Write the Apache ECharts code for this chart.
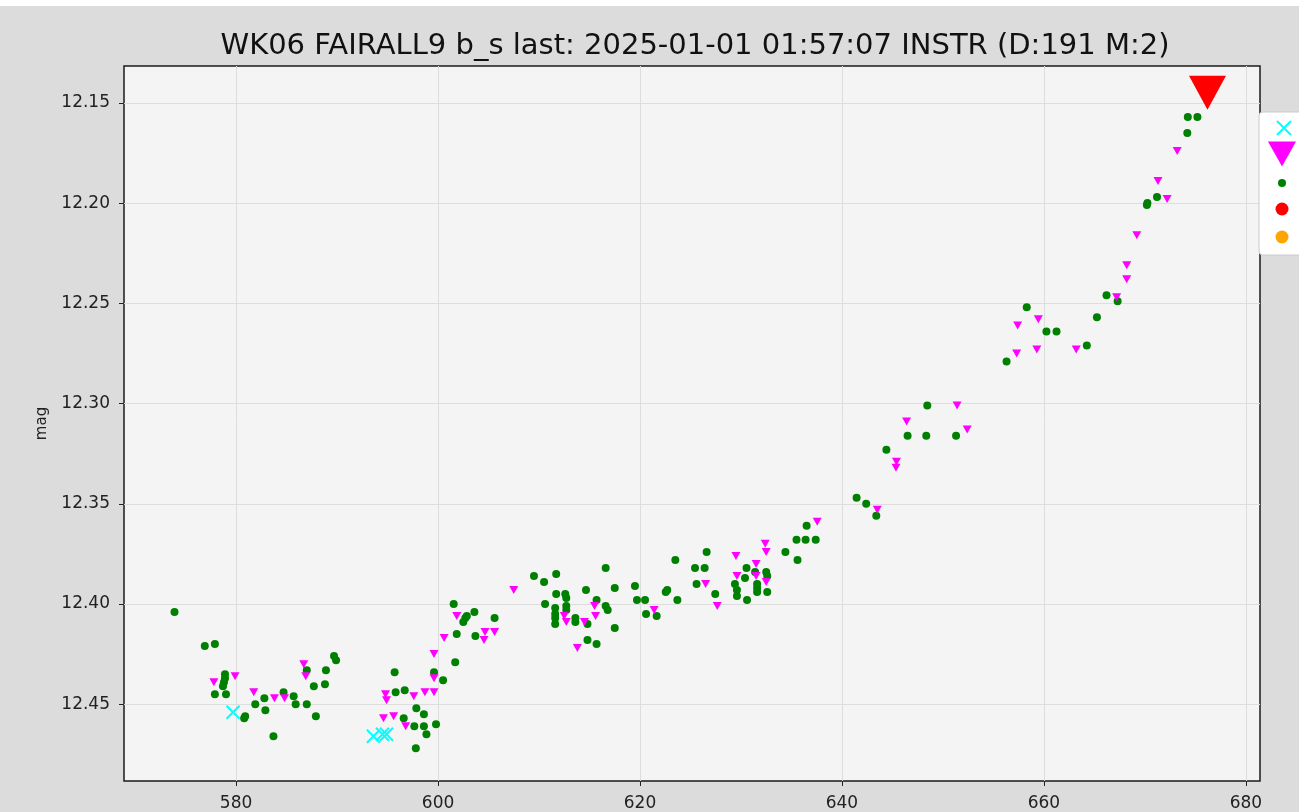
<!DOCTYPE html>
<html>
<head>
<meta charset="utf-8">
<script src="https://cdn.jsdelivr.net/npm/echarts@6/dist/echarts.min.js"></script>
<style>
  html, body { margin: 0; padding: 0; background: #dcdcdc; }
  #chart { width: 1299px; height: 812px; }
</style>
</head>
<body>
<div id="chart"></div>
<script>
const TITLE = "WK06 FAIRALL9 b_s last: 2025-01-01 01:57:07 INSTR (D:191 M:2)";
const X_TICKS = [580, 600, 620, 640, 660, 680];
const Y_TICKS = [12.15, 12.20, 12.25, 12.30, 12.35, 12.40, 12.45];

// [day, mag]
const greenPoints = [
  [573.9, 12.404], [576.9, 12.421], [577.9, 12.420], [578.9, 12.435], [578.9, 12.437],
  [578.8, 12.439], [578.7, 12.441], [577.9, 12.445], [579.0, 12.445], [580.8, 12.457],
  [580.9, 12.456], [581.9, 12.450], [582.8, 12.447], [582.9, 12.453], [583.7, 12.466],
  [584.7, 12.444], [585.7, 12.446], [585.9, 12.450], [587.0, 12.450], [587.0, 12.433],
  [587.9, 12.456], [587.7, 12.441], [588.8, 12.440], [588.9, 12.433], [589.7, 12.426],
  [589.9, 12.428], [595.7, 12.434], [595.8, 12.444], [596.7, 12.443], [596.6, 12.457],
  [597.85, 12.452], [597.65, 12.461], [597.8, 12.472], [598.6, 12.455], [598.6, 12.461],
  [598.85, 12.465], [599.6, 12.434], [599.8, 12.460], [600.5, 12.438], [601.7, 12.429],
  [601.85, 12.415], [601.55, 12.400], [602.5, 12.409], [602.7, 12.407], [602.85, 12.406],
  [603.6, 12.404], [603.7, 12.416], [605.6, 12.407], [609.5, 12.386], [610.5, 12.389],
  [611.7, 12.385], [610.6, 12.400], [611.7, 12.395], [612.6, 12.395], [612.7, 12.397],
  [611.6, 12.402], [611.6, 12.405], [611.6, 12.407], [611.6, 12.410], [612.7, 12.401],
  [612.7, 12.403], [613.6, 12.407], [613.6, 12.409], [614.65, 12.393], [614.8, 12.410],
  [614.8, 12.418], [615.7, 12.398], [615.7, 12.420], [616.6, 12.382], [616.6, 12.401],
  [616.8, 12.403], [617.5, 12.392], [617.5, 12.412], [619.5, 12.391], [619.7, 12.398],
  [620.5, 12.398], [620.6, 12.405], [621.65, 12.406], [622.55, 12.394], [622.7, 12.393],
  [623.5, 12.378], [623.7, 12.398], [625.45, 12.382], [626.4, 12.382], [626.6, 12.374],
  [625.6, 12.390], [627.45, 12.395], [629.4, 12.390], [629.6, 12.393], [629.6, 12.396],
  [630.4, 12.387], [630.55, 12.382], [630.6, 12.398], [631.4, 12.384], [631.6, 12.390],
  [631.6, 12.392], [631.6, 12.394], [632.5, 12.384], [632.6, 12.386], [632.6, 12.394],
  [634.4, 12.374], [635.6, 12.378], [635.5, 12.368], [636.4, 12.368], [636.5, 12.361],
  [637.4, 12.368], [641.45, 12.347], [642.4, 12.350], [643.4, 12.356], [644.4, 12.323],
  [646.5, 12.316], [648.35, 12.316], [648.45, 12.301], [651.3, 12.316], [656.3, 12.279],
  [658.3, 12.252], [660.25, 12.264], [661.25, 12.264], [664.25, 12.271], [665.25, 12.257],
  [666.2, 12.246], [667.3, 12.249], [670.2, 12.201], [670.25, 12.200], [671.2, 12.197],
  [674.2, 12.165], [674.25, 12.157], [675.2, 12.157]
];

const magentaPoints = [
  [577.8, 12.439], [579.9, 12.436], [581.75, 12.444], [583.8, 12.447], [584.8, 12.447],
  [586.7, 12.430], [586.9, 12.436], [594.8, 12.445], [594.9, 12.448], [594.6, 12.457],
  [595.6, 12.456], [596.8, 12.461], [597.6, 12.446], [598.7, 12.444], [599.6, 12.444],
  [599.6, 12.425], [599.6, 12.437], [600.6, 12.417], [601.85, 12.406], [604.55, 12.418],
  [604.65, 12.414], [605.6, 12.414], [607.5, 12.393], [612.5, 12.406], [612.7, 12.409],
  [613.8, 12.422], [614.5, 12.409], [615.5, 12.401], [615.6, 12.406], [621.4, 12.403],
  [626.5, 12.390], [627.65, 12.401], [629.5, 12.376], [629.6, 12.386], [631.5, 12.380],
  [631.5, 12.386], [632.4, 12.370], [632.5, 12.374], [632.5, 12.389], [637.55, 12.359],
  [643.5, 12.353], [645.4, 12.329], [645.35, 12.332], [646.4, 12.309], [651.4, 12.301],
  [652.4, 12.313], [657.3, 12.275], [657.4, 12.261], [659.45, 12.258], [659.3, 12.273],
  [663.2, 12.273], [667.2, 12.247], [668.2, 12.231], [668.2, 12.238], [669.2, 12.216],
  [671.3, 12.189], [672.2, 12.198], [673.2, 12.174]
];

const cyanPoints = [[579.7, 12.454], [593.6, 12.466], [594.5, 12.465], [594.9, 12.465]];
const lastPoint = [[676.2, 12.145]];
const redPoints = [];
const orangePoints = [];

const CROSS = "path://M0,0L10,10M10,0L0,10";
const DOWN_TRI = "path://M0,0L10,0L5,9Z";

const chart = echarts.init(document.getElementById("chart"));

function legendEntry(name, cx, cy, w, h, icon, style) {
  return {
    data: [{ name, icon, itemStyle: Object.assign({ opacity: 1 }, style) }],
    left: cx - w / 2,
    top: cy - h / 2,
    itemWidth: w,
    itemHeight: h,
    padding: 0,
    itemGap: 0,
    selectedMode: false,
    formatter: () => "",
    textStyle: { fontSize: 1 },
    z: 20
  };
}

chart.setOption({
  backgroundColor: "#dcdcdc",
  animation: false,
  title: {
    text: TITLE,
    left: 690,
    textAlign: "center",
    top: 27,
    textStyle: { fontFamily: "DejaVu Sans", fontSize: 29, fontWeight: "normal", color: "#111" }
  },
  graphic: [
    { type: "rect", shape: { x: 0, y: 0, width: 1299, height: 6 }, style: { fill: "#ffffff" }, silent: true },
    {
      type: "rect", z: 10,
      shape: { x: 1259, y: 112, width: 70, height: 143, r: 4 },
      style: { fill: "#ffffff", stroke: "#cccccc", lineWidth: 1 },
      silent: true
    }
  ],
  legend: [
    legendEntry("cross", 1283, 127, 14, 14, CROSS, { color: "#00ffff", borderColor: "#00ffff", borderWidth: 2 }),
    legendEntry("ul", 1282, 154, 28, 27, DOWN_TRI, { color: "#ff00ff", borderColor: "#ff00ff", borderWidth: 0 }),
    legendEntry("mag", 1282, 183, 8, 8, "circle", { color: "#008000", borderColor: "#008000", borderWidth: 0 }),
    legendEntry("red", 1282, 209, 13, 13, "circle", { color: "#ff0000", borderColor: "#ff0000", borderWidth: 0 }),
    legendEntry("orange", 1282, 237, 13, 13, "circle", { color: "#ffa500", borderColor: "#ffa500", borderWidth: 0 })
  ],
  grid: {
    left: 124, right: 39, top: 66, bottom: 29,
    show: true,
    backgroundColor: "#f4f4f4",
    borderColor: "#1a1a1a",
    borderWidth: 1.5
  },
  xAxis: {
    type: "value",
    min: 568.9,
    max: 681.4,
    axisLine: { show: false },
    axisTick: { show: true, length: 5, customValues: X_TICKS, lineStyle: { color: "#222" } },
    axisLabel: {
      customValues: X_TICKS,
      margin: 14,
      fontFamily: "DejaVu Sans", fontSize: 17, color: "#222"
    },
    splitLine: { show: true, lineStyle: { color: "#dddddd", width: 1 } }
  },
  yAxis: {
    type: "value",
    inverse: true,
    min: 12.1316,
    max: 12.4883,
    name: "mag",
    nameLocation: "middle",
    nameGap: 74,
    nameTextStyle: { fontFamily: "DejaVu Sans", fontSize: 15, color: "#222" },
    axisLine: { show: false },
    axisTick: { show: true, length: 5, customValues: Y_TICKS, lineStyle: { color: "#222" } },
    axisLabel: {
      customValues: Y_TICKS,
      margin: 14,
      formatter: (v) => v.toFixed(2),
      fontFamily: "DejaVu Sans", fontSize: 17, color: "#222"
    },
    splitLine: { show: true, lineStyle: { color: "#dddddd", width: 1 } }
  },
  series: [
    {
      name: "mag", type: "scatter", data: greenPoints,
      symbol: "circle", symbolSize: 8,
      itemStyle: { color: "#008000", opacity: 1 }
    },
    {
      name: "ul", type: "scatter", data: magentaPoints,
      symbol: DOWN_TRI, symbolSize: [9, 8],
      itemStyle: { color: "#ff00ff", opacity: 1 }
    },
    {
      name: "cross", type: "scatter", data: cyanPoints,
      symbol: CROSS, symbolSize: 13,
      itemStyle: { color: "#00ffff", borderColor: "#00ffff", borderWidth: 2, opacity: 1 }
    },
    {
      name: "last", type: "scatter", data: lastPoint,
      symbol: DOWN_TRI, symbolSize: [37, 34],
      itemStyle: { color: "#ff0000", opacity: 1 }
    },
    { name: "red", type: "scatter", data: redPoints, symbolSize: 13, itemStyle: { color: "#ff0000", opacity: 1 } },
    { name: "orange", type: "scatter", data: orangePoints, symbolSize: 13, itemStyle: { color: "#ffa500", opacity: 1 } }
  ]
});
</script>
</body>
</html>
